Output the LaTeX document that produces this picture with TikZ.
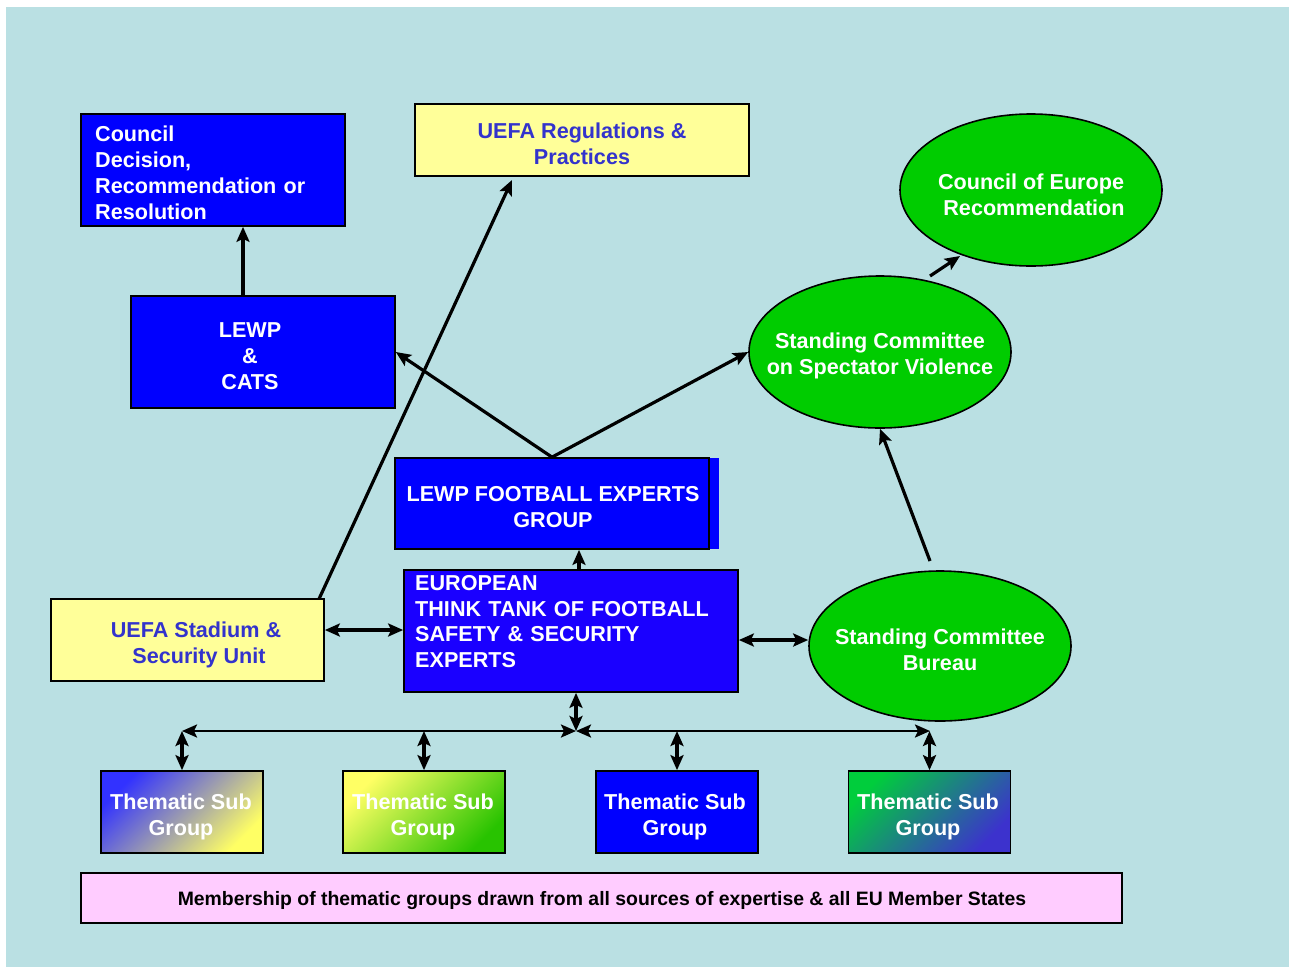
\documentclass[tikz,border=0pt]{standalone}
\usepackage{fontspec}
\setmainfont{Liberation Sans}
\usetikzlibrary{shapes.geometric,arrows.meta}
\definecolor{bgc}{HTML}{BAE0E3}
\definecolor{bluebox}{HTML}{0000FF}
\definecolor{tankblue}{HTML}{1A00FF}
\definecolor{yelbox}{HTML}{FFFF99}
\definecolor{uefatext}{HTML}{3333CC}
\definecolor{greenell}{HTML}{00CC00}
\definecolor{pinkbox}{HTML}{FFCCFF}
\tikzset{
  box/.style={draw=black, line width=1.7pt, inner sep=0pt},
  ell/.style={ellipse, draw=black, line width=1.6pt, fill=greenell, inner sep=0pt},
  lbl/.style={inner sep=0pt, align=center, text=white, font=\bfseries\fontsize{21.6}{25.8}\selectfont},
  ulbl/.style={lbl, text=uefatext},
  arr/.style={line width=3.2pt, -{Stealth[length=15pt,width=13pt,inset=3pt]}},
  arrd/.style={line width=3.2pt, {Stealth[length=15pt,width=13pt,inset=3pt]}-{Stealth[length=15pt,width=13pt,inset=3pt]}},
  busd/.style={line width=2.5pt, {Stealth[length=15pt,width=13pt,inset=3pt]}-{Stealth[length=15pt,width=13pt,inset=3pt]}},
  tsbox/.style={box, minimum width=162pt, minimum height=82pt},
}
\begin{document}
\begin{tikzpicture}[x=1pt,y=-1pt]
\useasboundingbox (0,0) rectangle (1289,967);
\fill[bgc] (6,7) rectangle (1289,967);

% top row
\node[box, fill=bluebox, minimum width=264pt, minimum height=112pt] (council) at (213,170) {};
\node[lbl, text width=240pt, align=left, anchor=north west] (counciltxt) at (95,126)
  {Council\\Decision,\\Recommendation or\\Resolution};
\node[box, fill=yelbox, minimum width=334pt, minimum height=72pt] (uefareg) at (582,140) {};
\node[ulbl] (uefaregtxt) at (582,144) {UEFA Regulations \&\\Practices};
\node[ell, minimum width=262pt, minimum height=152pt] (coe) at (1031,190) {};
\node[lbl] (coetxt) at (1031,195) {Council of Europe\\\ Recommendation};

% middle
\node[box, fill=bluebox, minimum width=264pt, minimum height=112pt] (lewp) at (263,352) {};
\node[lbl] (lewptxt) at (250,356) {LEWP\\\&\\CATS};
\node[ell, minimum width=262pt, minimum height=152pt] (scsv) at (880,352) {};
\node[lbl] (scsvtxt) at (880,356) {Standing Committee\\on Spectator Violence};

\fill[bluebox] (395,458) rectangle (719,549);
\node[box, fill=bluebox, minimum width=314pt, minimum height=91pt] (lfeg) at (552,503.5) {};
\node[lbl] (lfegtxt) at (553,507) {LEWP FOOTBALL EXPERTS\\GROUP};

\node[box, fill=tankblue, minimum width=334pt, minimum height=122pt] (tank) at (571,631) {};
\node[lbl, text width=320pt, align=left, anchor=north west] (tanktxt) at (415,575)
  {EUROPEAN\\THINK TANK OF FOOTBALL\\SAFETY \& SECURITY\\EXPERTS};

\node[box, fill=yelbox, minimum width=273pt, minimum height=82pt] (uss) at (187.5,640) {};
\node[ulbl] (usstxt) at (196,645) {UEFA Stadium \&\\\ Security Unit};

\node[ell, minimum width=262pt, minimum height=150pt] (bureau) at (940,646) {};
\node[lbl] (bureautxt) at (940,650) {Standing Committee\\Bureau};

% thematic sub groups
\node[tsbox, top color={rgb,255:red,50;green,50;blue,255}, middle color={rgb,255:red,195;green,195;blue,185},
  bottom color={rgb,255:red,255;green,255;blue,100}, shading angle=45] (ts1) at (182,812) {};
\node[tsbox, top color={rgb,255:red,255;green,255;blue,100}, middle color={rgb,255:red,200;green,238;blue,70},
  bottom color={rgb,255:red,40;green,195;blue,0}, shading angle=45] (ts2) at (424,812) {};
\node[tsbox, fill=bluebox] (ts3) at (677,812) {};
\node[tsbox, top color={rgb,255:red,0;green,205;blue,60}, middle color={rgb,255:red,40;green,155;blue,150},
  bottom color={rgb,255:red,60;green,50;blue,205}, shading angle=45] (ts4) at (929.5,812) {};
\node[lbl] (ts1txt) at (181,817) {Thematic Sub\\Group};
\node[lbl] (ts2txt) at (423,817) {Thematic Sub\\Group};
\node[lbl] (ts3txt) at (675,817) {Thematic Sub\\Group};
\node[lbl] (ts4txt) at (928,817) {Thematic Sub\\Group};

\node[box, fill=pinkbox, minimum width=1041pt, minimum height=50pt] (member) at (601.5,898) {};
\node[inner sep=0pt, font=\bfseries\fontsize{19.4}{22}\selectfont] (membertxt) at (602,901)
  {Membership of thematic groups drawn from all sources of expertise \& all EU Member States};

% helper coordinates
\coordinate (x243) at (243,0);
\coordinate (x579) at (579,0);
\coordinate (x576) at (576,0);
\coordinate (y630) at (0,630);
\coordinate (y640) at (0,640);
\coordinate (junc) at (576,731);
\coordinate (busL) at (182,731);
\coordinate (busR) at (930,731);
\coordinate (bstart) at (930,561);
\coordinate (ustart) at (319,599);
\coordinate (uend) at (512,180);
\coordinate (cstart) at (930,276);
\coordinate (cend) at (960,256);

% connectors
\draw[arr] (lewp.north -| x243) -- (council.south -| x243);
\draw[arr] (lfeg.north) -- (lewp.east);
\draw[arr] (lfeg.north) -- (scsv.west);
\draw[arr] (cstart) -- (cend);
\draw[arr] (bstart) -- (scsv.south);
\draw[arr] (ustart) -- (uend);
\draw[arr] (tank.north -| x579) -- (lfeg.south -| x579);
\draw[arrd] (uss.east |- y630) -- (tank.west |- y630);
\draw[arrd] (tank.east |- y640) -- (bureau.west |- y640);
\draw[arrd] (tank.south -| x576) -- (junc);
\draw[busd] (busL) -- (junc);
\draw[busd] (junc) -- (busR);
\draw[arrd] (ts1.north) -- (ts1.north |- junc);
\draw[arrd] (ts2.north) -- (ts2.north |- junc);
\draw[arrd] (ts3.north) -- (ts3.north |- junc);
\draw[arrd] (ts4.north) -- (ts4.north |- junc);
\end{tikzpicture}
\end{document}
